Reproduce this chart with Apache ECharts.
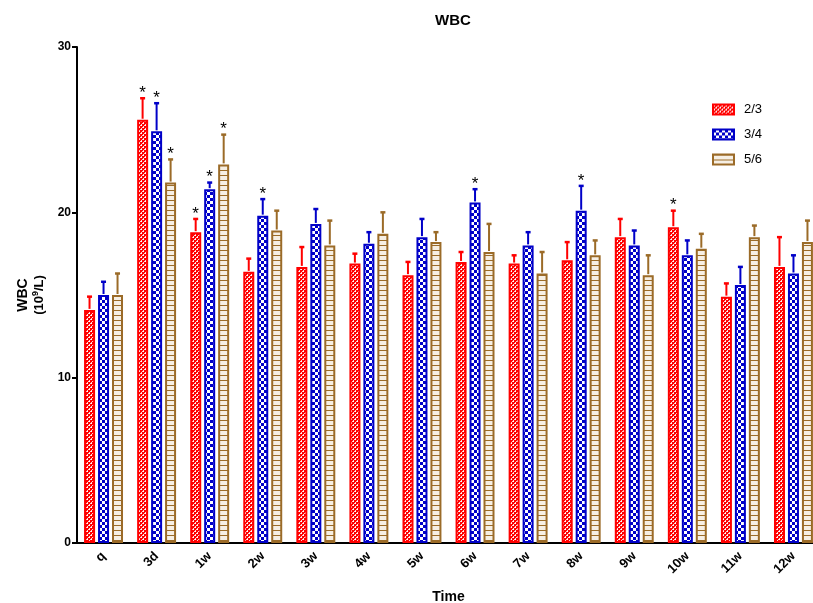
<!DOCTYPE html>
<html>
<head>
<meta charset="utf-8">
<script src="https://cdn.jsdelivr.net/npm/echarts@6/dist/echarts.min.js"></script>
<style>
html, body { margin: 0; padding: 0; background: #fff; }
#main { width: 813px; height: 603px; }
</style>
</head>
<body>
<div id="main"></div>
<script>
var categories = ['q', '3d', '1w', '2w', '3w', '4w', '5w', '6w', '7w', '8w', '9w', '10w', '11w', '12w'];
var yTicks = [0, 10, 20, 30];

var mean23 = [14.1, 25.6, 18.8, 16.4, 16.7, 16.9, 16.2, 17.0, 16.9, 17.1, 18.5, 19.1, 14.9, 16.7];
var sd23 = [0.8, 1.3, 0.8, 0.8, 1.2, 0.6, 0.8, 0.6, 0.5, 1.1, 1.1, 1.0, 0.8, 1.8];
var star23 = [0, 1, 1, 0, 0, 0, 0, 0, 0, 0, 0, 1, 0, 0];

var mean34 = [15.0, 24.9, 21.4, 19.8, 19.3, 18.1, 18.5, 20.6, 18.0, 20.1, 18.0, 17.4, 15.6, 16.3];
var sd34 = [0.8, 1.7, 0.4, 1.0, 0.9, 0.7, 1.1, 0.8, 0.8, 1.5, 0.9, 0.9, 1.1, 1.1];
var star34 = [0, 1, 1, 1, 0, 0, 0, 1, 0, 1, 0, 0, 0, 0];

var mean56 = [15.0, 21.8, 22.9, 18.9, 18.0, 18.7, 18.2, 17.6, 16.3, 17.4, 16.2, 17.8, 18.5, 18.2];
var sd56 = [1.3, 1.4, 1.8, 1.2, 1.5, 1.3, 0.6, 1.7, 1.3, 0.9, 1.2, 0.9, 0.7, 1.3];
var star56 = [0, 1, 1, 0, 0, 0, 0, 0, 0, 0, 0, 0, 0, 0];

var RED = '#ff0000', BLUE = '#0000c8', BROWN = '#9b6b28';
var FONT = 'Arial, "Liberation Sans", sans-serif';

/* fill patterns */
function makeTile(w, h, draw) {
	var c = document.createElement('canvas');
	c.width = w; c.height = h;
	draw(c.getContext('2d'));
	return c;
}
var redTile = makeTile(4, 4, function (g) {
	g.fillStyle = RED; g.fillRect(0, 0, 4, 4);
	g.fillStyle = '#ffd0d0';
	g.fillRect(1, 0, 1, 1); g.fillRect(3, 2, 1, 1);
	g.fillRect(0, 1, 1, 1); g.fillRect(2, 3, 1, 1);
	g.fillStyle = '#ffffff';
	g.fillRect(1, 1, 1, 1); g.fillRect(3, 3, 1, 1);
});
var blueTile = makeTile(6, 6, function (g) {
	g.fillStyle = '#ffffff'; g.fillRect(0, 0, 6, 6);
	g.fillStyle = BLUE;
	g.fillRect(0, 0, 3, 3); g.fillRect(3, 3, 3, 3);
});
var brownTile = makeTile(4, 5, function (g) {
	g.fillStyle = '#f6efe4'; g.fillRect(0, 0, 4, 5);
	g.fillStyle = BROWN; g.fillRect(0, 0, 4, 1);
});

function pat(tile) {
	return { image: tile, repeat: 'repeat' };
}

/* upper error bar + star */
function errSeries(name, means, sds, stars, offset, color) {
	var data = means.map(function (m, i) { return [i, m, sds[i], stars[i]]; });
	return {
		type: 'custom',
		name: name + ' err',
		data: data,
		z: 3,
		silent: true,
		renderItem: function (params, api) {
			var p0 = api.coord([api.value(0), api.value(1)]);
			var p1 = api.coord([api.value(0), api.value(1) + api.value(2)]);
			var x = p0[0] + offset;
			var kids = [{
				type: 'line',
				shape: { x1: x, y1: p0[1] - 1, x2: x, y2: p1[1] },
				style: { stroke: color, lineWidth: 2 }
			}, {
				type: 'line',
				shape: { x1: x - 2.5, y1: p1[1], x2: x + 2.5, y2: p1[1] },
				style: { stroke: color, lineWidth: 2.5 }
			}];
			if (api.value(3)) {
				kids.push({
					type: 'text',
					style: {
						text: '*', x: x, y: p1[1] - 5,
						align: 'center', verticalAlign: 'middle',
						font: '17px ' + FONT, fill: '#000'
					}
				});
			}
			return { type: 'group', children: kids };
		}
	};
}

function barSeries(name, means, tile, color) {
	return {
		name: name,
		type: 'bar',
		data: means,
		barWidth: 11,
		barGap: '27%',
		itemStyle: { color: pat(tile), borderColor: color, borderWidth: 2 }
	};
}

var myChart = echarts.init(document.getElementById('main'));
var option = {
	animation: false,
	backgroundColor: '#fff',
	title: {
		text: 'WBC',
		left: 448,
		top: 8,
		textAlign: 'center',
		textStyle: { fontFamily: FONT, fontWeight: 'bold', fontSize: 15, color: '#000' }
	},
	legend: {
		orient: 'vertical',
		left: 712,
		top: 103,
		padding: 0,
		icon: 'rect',
		itemWidth: 21,
		itemHeight: 10,
		itemGap: 12,
		data: ['2/3', '3/4', '5/6'],
		textStyle: { fontFamily: FONT, fontSize: 13, color: '#000', padding: [0, 0, 0, 5] }
	},
	grid: { left: 77, top: 47, bottom: 60, width: 743, outerBoundsMode: 'none' },
	xAxis: {
		type: 'category',
		data: categories,
		name: 'Time',
		nameLocation: 'middle',
		nameGap: 47,
		nameTextStyle: { fontFamily: FONT, fontWeight: 'bold', fontSize: 14, color: '#000' },
		axisLine: { lineStyle: { color: '#000', width: 2 } },
		axisTick: { alignWithLabel: true, length: 5, lineStyle: { color: '#000', width: 2 } },
		axisLabel: {
			rotate: 45, margin: 11,
			fontFamily: FONT, fontWeight: 'bold', fontSize: 13, color: '#000'
		}
	},
	yAxis: {
		type: 'value',
		min: yTicks[0],
		max: yTicks[yTicks.length - 1],
		interval: 10,
		name: '{b|WBC}\n{n|(10}{s|9}{n|/L)}',
		nameLocation: 'middle',
		nameGap: 30,
		nameRotate: 90,
		nameTextStyle: {
			color: '#000',
			rich: {
				b: { fontFamily: FONT, fontWeight: 'bold', fontSize: 14, lineHeight: 16 },
				n: { fontFamily: FONT, fontWeight: 'bold', fontSize: 13, lineHeight: 16 },
				s: { fontFamily: FONT, fontWeight: 'bold', fontSize: 9, verticalAlign: 'top', lineHeight: 16, padding: [0, 0, 6, 0] }
			}
		},
		splitLine: { show: false },
		axisLine: { show: true, lineStyle: { color: '#000', width: 2 } },
		axisTick: { show: true, length: 5, lineStyle: { color: '#000', width: 2 } },
		axisLabel: { fontFamily: FONT, fontWeight: 'bold', fontSize: 12, color: '#000', margin: 6 }
	},
	series: [
		barSeries('2/3', mean23, redTile, RED),
		barSeries('3/4', mean34, blueTile, BLUE),
		barSeries('5/6', mean56, brownTile, BROWN),
		errSeries('2/3', mean23, sd23, star23, -14, RED),
		errSeries('3/4', mean34, sd34, star34, 0, BLUE),
		errSeries('5/6', mean56, sd56, star56, 14, BROWN)
	]
};
myChart.setOption(option);
</script>
</body>
</html>
